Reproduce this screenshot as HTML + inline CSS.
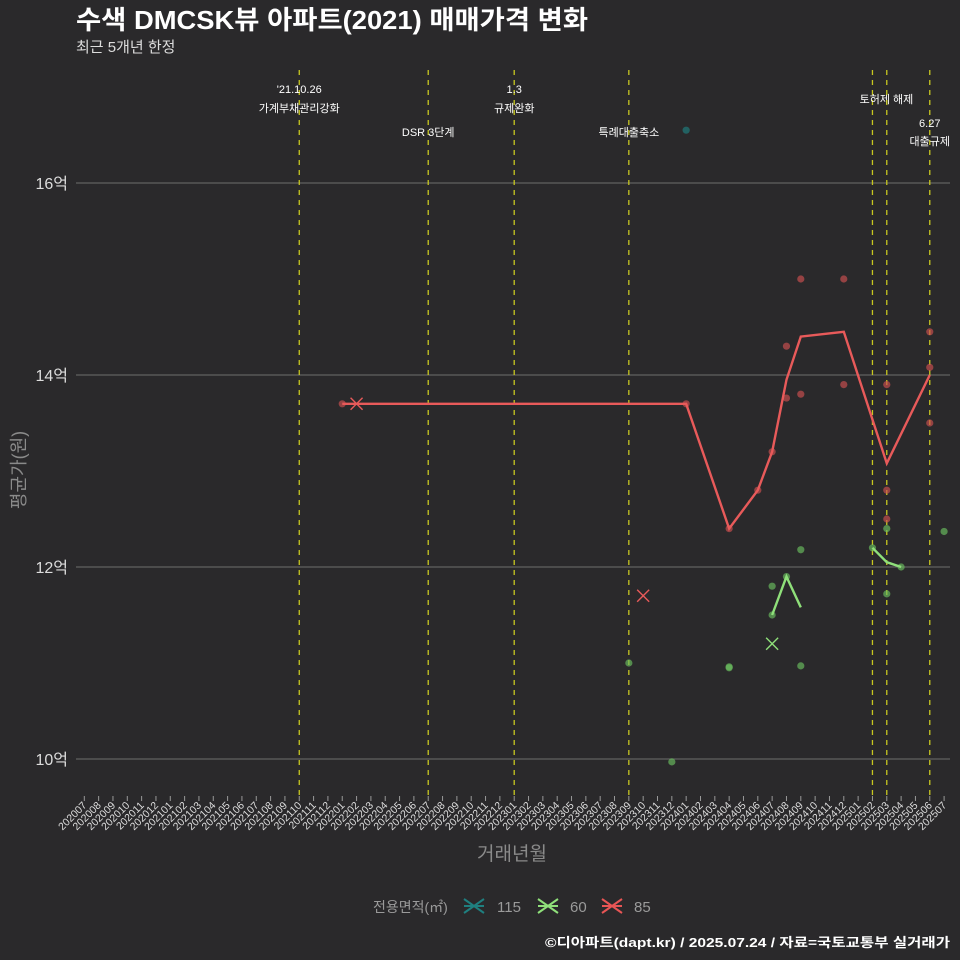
<!DOCTYPE html>
<html><head><meta charset="utf-8">
<style>
html,body{margin:0;padding:0;background:#2a292b;}
svg{display:block;font-family:"Liberation Sans","Noto Sans CJK KR",sans-serif;}
</style></head>
<body>
<svg id="c" width="960" height="960" viewBox="0 0 960 960">
<rect width="960" height="960" fill="#2a292b"/>
<text x="76" y="29" fill="#ffffff" font-size="26" font-weight="bold" textLength="512" lengthAdjust="spacingAndGlyphs">수색 DMCSK뷰 아파트(2021) 매매가격 변화</text>
<text x="76" y="52" fill="#dddddd" font-size="15">최근 5개년 한정</text>
<g id="grid"></g><g id="vl"></g><g id="marks"></g><g id="xt"></g>
<text x="25" y="470" fill="#8a8a8a" font-size="18" transform="rotate(-90 25 470)" text-anchor="middle">평균가(원)</text>
<text x="512" y="860" fill="#8a8a8a" font-size="19" text-anchor="middle">거래년월</text>
<g>
<text x="373" y="912" fill="#9a9a9a" font-size="14">전용면적(㎡)</text>
<g><path d="M464 899l20 14M464 913l20-14M464 906h20" stroke="#1f7f7f" stroke-width="2"/><text x="497" y="912" fill="#9a9a9a" font-size="15">115</text></g>
<g><path d="M538 899l20 14M538 913l20-14M538 906h20" stroke="#8fe07a" stroke-width="2"/><text x="570" y="912" fill="#9a9a9a" font-size="15">60</text></g>
<g><path d="M602 899l20 14M602 913l20-14M602 906h20" stroke="#e85555" stroke-width="2"/><text x="634" y="912" fill="#9a9a9a" font-size="15">85</text></g>
</g>
<text x="950" y="947" fill="#ffffff" font-size="13" font-weight="bold" text-anchor="end" textLength="405" lengthAdjust="spacingAndGlyphs">©디아파트(dapt.kr) / 2025.07.24 / 자료=국토교통부 실거래가</text>
</svg>
<script>
const months=[];for(let y=2020;y<=2025;y++)for(let m=1;m<=12;m++){const k=y*100+m;if(k>=202007&&k<=202507)months.push(String(k));}
const yTicks=[10,12,14,16];
const yTickLabels=["10억","12억","14억","16억"];
const events=["202110","202207","202301","202309","202502","202503","202506"];
const eventLabels=[["'21.10.26","가계부채관리강화"],["DSR 3단계"],["1.3","규제완화"],["특례대출축소"],["토허제 해제"],[""],["6.27","대출규제"]];
const eventLabelY=[[93,112],[136],[93,112],[136],[103],[0],[127,145]];
const eventLabelDx=[0,0,0,0,14,0,0];
const line85M=["202201","202401","202404","202406","202407","202408","202409","202412","202503","202506"];
const line85V=[13.7,13.7,12.4,12.8,13.2,13.95,14.4,14.45,13.08,14.0];
const dots85M=["202201","202401","202404","202406","202407","202408","202408","202409","202409","202412","202412","202503","202503","202503","202506","202506","202506"];
const dots85V=[13.7,13.7,12.4,12.8,13.2,14.3,13.76,15.0,13.8,15.0,13.9,13.9,12.8,12.5,14.45,14.08,13.5];
const x85M=["202202","202310"];const x85V=[13.7,11.7];
const line60aM=["202407","202408","202409"];const line60aV=[11.5,11.9,11.58];
const line60bM=["202502","202503","202504"];const line60bV=[12.2,12.05,12.0];
const dots60M=["202309","202312","202404","202404","202407","202407","202408","202409","202409","202502","202503","202503","202504","202507"];
const dots60V=[11.0,9.97,10.96,10.95,11.8,11.5,11.9,12.18,10.97,12.2,12.4,11.72,12.0,12.37];
const x60M=["202407"];const x60V=[11.2];
const dots115M=["202401"];const dots115V=[16.55];
const NS="http://www.w3.org/2000/svg";
const X=m=>84.3+14.33*months.indexOf(m);
const Y=v=>759-(v-10)*96;
function el(t,a,p){const e=document.createElementNS(NS,t);for(const k in a)e.setAttribute(k,a[k]);p.appendChild(e);return e;}
const g=document.getElementById('grid'),vl=document.getElementById('vl'),mk=document.getElementById('marks'),xt=document.getElementById('xt');
yTicks.forEach((v,i)=>{const l=el('line',{x1:76,x2:950,y1:Y(v),y2:Y(v),stroke:'#6e6e6e','stroke-width':1},g);

const t=el('text',{x:68,y:Y(v)+6,fill:'#dddddd','font-size':16,'text-anchor':'end'},g);t.textContent=yTickLabels[i];
});
events.forEach((m,i)=>{const x=X(m);const l=el('line',{x1:x,x2:x,y1:70,y2:796,stroke:'#c8c820','stroke-width':1.3,'stroke-dasharray':'5,5'},vl);

eventLabels[i].forEach((s,j)=>{if(!s)return;const t=el('text',{x:x+eventLabelDx[i],y:eventLabelY[i][j],fill:'#ffffff','font-size':11,'text-anchor':'middle'},vl);t.textContent=s;
});});
months.forEach(m=>{const x=X(m);el('line',{x1:x,x2:x,y1:796,y2:801,stroke:'#999'},xt);
const t=el('text',{x:x+3,y:806,fill:'#dddddd','font-size':10.5,'text-anchor':'end',transform:`rotate(-45 ${x+3} 806)`},xt);t.textContent=m;
});
function dots(M,V,c,name){M.forEach((m,i)=>{const d=el('circle',{cx:X(m),cy:Y(V[i]),r:3.6,fill:c,opacity:0.65},mk);
});}
function line(M,V,c,name){const p=el('polyline',{points:M.map((m,i)=>X(m)+','+Y(V[i])).join(' '),fill:'none',stroke:c,'stroke-width':2.4},mk);
}
function cross(M,V,c,name){M.forEach((m,i)=>{const x=X(m),y=Y(V[i]);const p=el('path',{d:`M${x-6} ${y-6}L${x+6} ${y+6}M${x-6} ${y+6}L${x+6} ${y-6}`,stroke:c,'stroke-width':1.4},mk);
});}
dots(dots115M,dots115V,'#1f8080','point-115');
dots(dots60M,dots60V,'#6cc060','point-60');
dots(dots85M,dots85V,'#d05050','point-85');
line(line85M,line85V,'#e85a5a','line-85');
line(line60aM,line60aV,'#8fe07a','line-60');
line(line60bM,line60bV,'#8fe07a','line-60');
cross(x85M,x85V,'#e85a5a','marker-85');
cross(x60M,x60V,'#8fe07a','marker-60');
</script>
</body></html>
